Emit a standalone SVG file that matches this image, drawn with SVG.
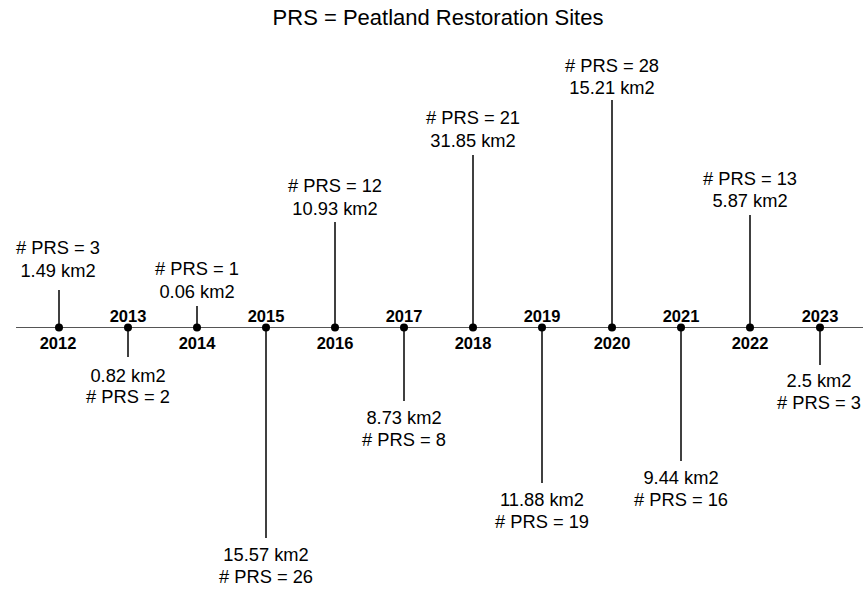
<svg xmlns="http://www.w3.org/2000/svg" width="863" height="590" viewBox="0 0 863 590">
<style>
.t{font-family:"Liberation Sans",Arial,sans-serif;font-size:18.3px;fill:#000;text-anchor:middle}
.y{font-family:"Liberation Sans",Arial,sans-serif;font-size:16.5px;font-weight:bold;fill:#000;text-anchor:middle}
.title{font-family:"Liberation Sans",Arial,sans-serif;font-size:22px;fill:#000;text-anchor:middle}
.stem{stroke:#000;stroke-width:1.5}
.axis{stroke:#555;stroke-width:1.2}
</style>
<rect width="863" height="590" fill="#fff"/>
<text class="title" x="438" y="25">PRS = Peatland Restoration Sites</text>
<g id="connectors">
<line class="axis" x1="16" y1="327.5" x2="863" y2="327.5"/>
<line class="stem" x1="59" y1="327" x2="59" y2="290"/>
<line class="stem" x1="128" y1="327" x2="128" y2="357"/>
<line class="stem" x1="197" y1="327" x2="197" y2="306"/>
<line class="stem" x1="266" y1="327" x2="266" y2="538"/>
<line class="stem" x1="335" y1="327" x2="335" y2="222"/>
<line class="stem" x1="404" y1="327" x2="404" y2="401"/>
<line class="stem" x1="473" y1="327" x2="473" y2="155"/>
<line class="stem" x1="542" y1="327" x2="542" y2="483"/>
<line class="stem" x1="612" y1="327" x2="612" y2="100"/>
<line class="stem" x1="681" y1="327" x2="681" y2="461"/>
<line class="stem" x1="750" y1="327" x2="750" y2="215"/>
<line class="stem" x1="820" y1="327" x2="820" y2="365"/>
</g>
<g id="y2012"><circle cx="59" cy="327.5" r="4"/><text class="y" x="58" y="349">2012</text><text class="t" x="58" y="254"># PRS = 3</text><text class="t" x="58" y="277">1.49 km2</text></g>
<g id="y2013"><circle cx="128" cy="327.5" r="4"/><text class="y" x="128" y="322">2013</text><text class="t" x="128" y="382">0.82 km2</text><text class="t" x="128" y="403"># PRS = 2</text></g>
<g id="y2014"><circle cx="197" cy="327.5" r="4"/><text class="y" x="197" y="349">2014</text><text class="t" x="197" y="275"># PRS = 1</text><text class="t" x="197" y="298">0.06 km2</text></g>
<g id="y2015"><circle cx="266" cy="327.5" r="4"/><text class="y" x="266" y="322">2015</text><text class="t" x="266" y="561">15.57 km2</text><text class="t" x="266" y="583"># PRS = 26</text></g>
<g id="y2016"><circle cx="335" cy="327.5" r="4"/><text class="y" x="335" y="349">2016</text><text class="t" x="335" y="192"># PRS = 12</text><text class="t" x="335" y="215">10.93 km2</text></g>
<g id="y2017"><circle cx="404" cy="327.5" r="4"/><text class="y" x="404" y="322">2017</text><text class="t" x="404" y="424">8.73 km2</text><text class="t" x="404" y="446"># PRS = 8</text></g>
<g id="y2018"><circle cx="473" cy="327.5" r="4"/><text class="y" x="473" y="349">2018</text><text class="t" x="473" y="124"># PRS = 21</text><text class="t" x="473" y="147">31.85 km2</text></g>
<g id="y2019"><circle cx="542" cy="327.5" r="4"/><text class="y" x="542" y="322">2019</text><text class="t" x="542" y="506">11.88 km2</text><text class="t" x="542" y="528"># PRS = 19</text></g>
<g id="y2020"><circle cx="612" cy="327.5" r="4"/><text class="y" x="612" y="349">2020</text><text class="t" x="612" y="72"># PRS = 28</text><text class="t" x="612" y="94">15.21 km2</text></g>
<g id="y2021"><circle cx="681" cy="327.5" r="4"/><text class="y" x="681" y="322">2021</text><text class="t" x="681" y="484">9.44 km2</text><text class="t" x="681" y="506"># PRS = 16</text></g>
<g id="y2022"><circle cx="750" cy="327.5" r="4"/><text class="y" x="750" y="349">2022</text><text class="t" x="750" y="185"># PRS = 13</text><text class="t" x="750" y="207">5.87 km2</text></g>
<g id="y2023"><circle cx="820" cy="327.5" r="4"/><text class="y" x="820" y="322">2023</text><text class="t" x="819" y="387">2.5 km2</text><text class="t" x="819" y="409"># PRS = 3</text></g>
</svg>
